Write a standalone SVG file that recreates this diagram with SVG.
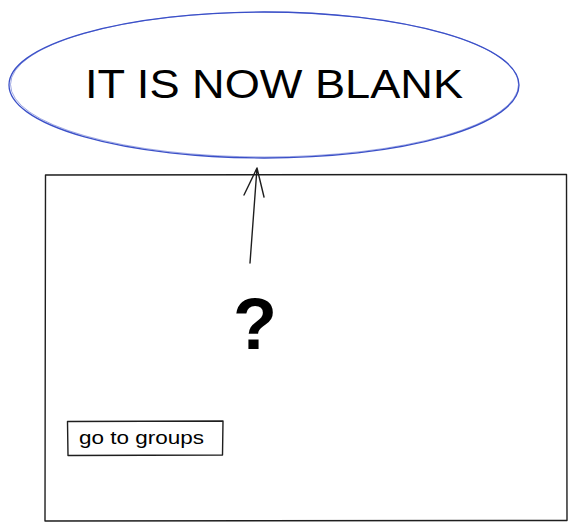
<svg xmlns="http://www.w3.org/2000/svg" width="577" height="531" viewBox="0 0 577 531">
<style>
.sk{fill:none;stroke:#1e1e1e;stroke-width:1.4;stroke-linecap:round;stroke-linejoin:round}
.t{font-family:"Liberation Sans",Arial,sans-serif;fill:#000}
</style>
<rect width="577" height="531" fill="#fff"/>
<g id="frame">
<path class="sk" d="M45.5,175 L566.5,174.5 L567,520.5 L45,521 Z"/>
</g>
<g id="title">
<ellipse cx="264" cy="85" rx="255" ry="73" fill="none" stroke="#3b50c8" stroke-width="1.3"/>
<ellipse cx="264.5" cy="84.5" rx="254" ry="72.5" fill="none" stroke="#3b50c8" stroke-width="0.7" opacity="0.7"/>
<text class="t" x="85" y="98" font-size="40" textLength="378" lengthAdjust="spacingAndGlyphs">IT IS NOW BLANK</text>
</g>
<g id="question">
<text class="t" x="255" y="349" font-size="72" font-weight="bold" text-anchor="middle">?</text>
</g>
<g id="button">
<path class="sk" d="M67.5,421.5 L223,421 L222.5,455 L68,455.5 Z"/>
<text class="t" x="79" y="444" font-size="18" textLength="125" lengthAdjust="spacingAndGlyphs">go to groups</text>
</g>
<g id="connectors">
<path class="sk" d="M250,263 L257,168 M244,195 L257,168 L264,197"/>
</g>
</svg>
